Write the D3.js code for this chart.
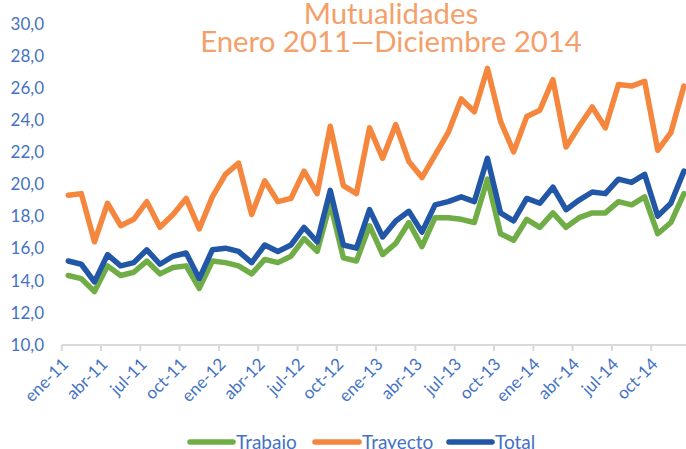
<!DOCTYPE html>
<html><head><meta charset="utf-8">
<script src="https://cdn.jsdelivr.net/npm/d3@7"></script>
<style>html,body{margin:0;padding:0;background:#fff;overflow:hidden}</style>
</head><body>
<svg id="chart" width="686" height="449"></svg>
<script>
const months = ["ene","feb","mar","abr","may","jun","jul","ago","sep","oct","nov","dic"];
const years = ["11","12","13","14"];
const categories = [];
years.forEach(y => months.forEach(m => categories.push(m + "-" + y)));

const trabajo = [14.3,14.1,13.3,14.9,14.3,14.5,15.2,14.4,14.8,14.9,13.5,15.2,
                 15.1,14.9,14.4,15.3,15.1,15.5,16.6,15.8,18.8,15.4,15.2,17.4,
                 15.6,16.3,17.6,16.1,17.9,17.9,17.8,17.6,20.3,16.9,16.5,17.8,
                 17.3,18.2,17.3,17.9,18.2,18.2,18.9,18.7,19.2,16.9,17.6,19.4];
const trayecto = [19.3,19.4,16.4,18.8,17.4,17.8,18.9,17.3,18.1,19.1,17.2,19.2,
                  20.6,21.3,18.1,20.2,18.9,19.1,20.8,19.4,23.6,19.9,19.4,23.5,
                  21.6,23.7,21.4,20.4,21.8,23.2,25.3,24.5,27.2,23.9,22.0,24.2,
                  24.6,26.5,22.3,23.6,24.8,23.5,26.2,26.1,26.4,22.1,23.2,26.1];
const total = [15.2,15.0,13.9,15.6,14.9,15.1,15.9,15.0,15.5,15.7,14.1,15.9,
               16.0,15.8,15.1,16.2,15.8,16.2,17.3,16.4,19.6,16.2,16.0,18.4,
               16.7,17.7,18.3,17.0,18.7,18.9,19.2,18.9,21.6,18.2,17.7,19.1,
               18.8,19.8,18.4,19.0,19.5,19.4,20.3,20.1,20.6,18.0,18.8,20.8];
const yTicks = [10,12,14,16,18,20,22,24,26,28,30];
const seriesNames = ["Trabajo","Trayecto","Total"];
const seriesColors = ["#70AD47","#F4863D","#2257A7"];
const titleLines = ["Mutualidades","Enero 2011\u2014Diciembre 2014"];

const svg = d3.select("#chart");
const FONT = "Lato, 'Open Sans', sans-serif";
const textBlue = "#4472C4";

const x = d3.scaleBand().domain(d3.range(categories.length)).range([61.7, 61.7 + 13.1*48]);
const y = d3.scaleLinear().domain([10,30]).range([344.5, 23.5]);

// Y axis labels
const yAxis = d3.axisLeft(y).tickValues(yTicks).tickSize(0).tickPadding(0)
  .tickFormat(d => d3.format(".1f")(d).replace(".", ","));
const gy = svg.append("g").attr("transform","translate(44,0)").call(yAxis);
gy.select(".domain").remove();
gy.selectAll("text").attr("fill", textBlue).attr("font-family", FONT).attr("font-size", 17).attr("dy","0.34em");

// X axis
const axisY = 345;
svg.append("line").attr("x1", 61.7).attr("x2", 686).attr("y1", axisY).attr("y2", axisY)
  .attr("stroke", "#D9D9D9").attr("stroke-width", 2);
const tickIdx = d3.range(0, 48, 3);
svg.append("g").selectAll("line").data(tickIdx).join("line")
  .attr("x1", d => x(d)).attr("x2", d => x(d)).attr("y1", axisY).attr("y2", axisY + 6)
  .attr("stroke", "#D9D9D9").attr("stroke-width", 2);
svg.append("g").selectAll("text").data(tickIdx).join("text")
  .attr("transform", d => `translate(${x(d) + x.bandwidth()/2 - 3},${axisY + 16}) rotate(-45)`)
  .attr("text-anchor","end").attr("dy","0.35em")
  .attr("fill", textBlue).attr("font-family", FONT).attr("font-size", 17)
  .text(d => categories[d]);

// Lines
const allSeries = [trabajo, trayecto, total];
const line = d3.line().x((d,i) => x(i) + x.bandwidth()/2).y(d => y(d));
allSeries.forEach((s, k) => {
  svg.append("path").datum(s).attr("d", line).attr("fill","none")
    .attr("stroke", seriesColors[k]).attr("stroke-width", 5.5)
    .attr("stroke-linejoin","round").attr("stroke-linecap","round");
});

// Title
const t1 = svg.append("text").attr("x", 391).attr("y", 24).attr("text-anchor","middle")
  .attr("fill","#F4A06A").attr("font-family", FONT).attr("font-size", 27).text(titleLines[0]);
const t2 = svg.append("text").attr("x", 391).attr("y", 52).attr("text-anchor","middle")
  .attr("fill","#F4A06A").attr("font-family", FONT).attr("font-size", 27).text(titleLines[1]);
const w2 = t2.node().getComputedTextLength();
const fs = 27 * 382 / w2;
t1.attr("font-size", fs); t2.attr("font-size", fs);

// Legend
const legendItems = [
  {x1:190, x2:233, tx:236},
  {x1:315, x2:359, tx:362},
  {x1:449, x2:492, tx:495}
];
const lg = svg.append("g");
legendItems.forEach((p, k) => {
  lg.append("line").attr("x1", p.x1).attr("x2", p.x2).attr("y1", 442).attr("y2", 442)
    .attr("stroke", seriesColors[k]).attr("stroke-width", 5.5).attr("stroke-linecap","round");
  lg.append("text").attr("x", p.tx).attr("y", 449).attr("fill", textBlue)
    .attr("font-family", FONT).attr("font-size", 19).text(seriesNames[k]);
});
</script>
</body></html>
